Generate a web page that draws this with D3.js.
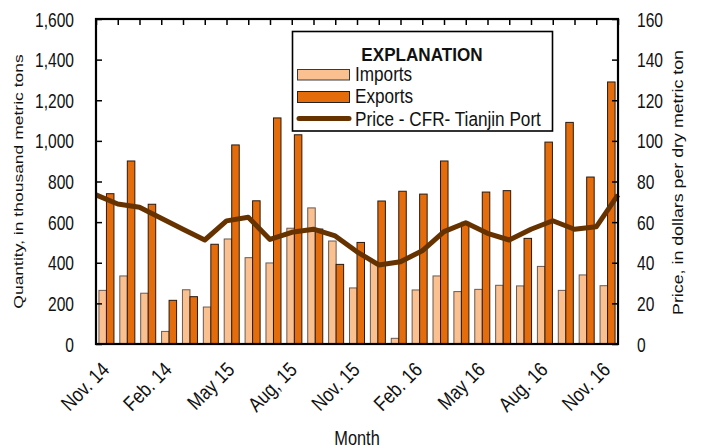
<!DOCTYPE html>
<html>
<head>
<meta charset="utf-8">
<script src="https://cdn.jsdelivr.net/npm/d3@7"></script>
<style>
  html, body { margin: 0; padding: 0; background: #fff; }
  svg { display: block; }
  text { font-family: "Liberation Sans", Arial, sans-serif; fill: #111; }
</style>
</head>
<body>
<svg id="chart" width="704" height="448"></svg>
<script>
const months = ["Nov. 14","Dec. 14","Jan. 15","Feb. 15","Mar. 15","Apr. 15","May 15","Jun. 15","Jul. 15","Aug. 15","Sep. 15","Oct. 15","Nov. 15","Dec. 15","Jan. 16","Feb. 16","Mar. 16","Apr. 16","May 16","Jun. 16","Jul. 16","Aug. 16","Sep. 16","Oct. 16","Nov. 16"];
const imports = [264,335,250,62,267,182,517,425,399,570,670,507,276,405,28,266,335,258,269,289,286,382,264,340,287];
const exportsQ = [740,901,688,215,233,491,980,705,1113,1030,566,392,500,704,752,738,901,599,748,755,520,994,1091,822,1290];
const price = [73.4,68.9,67.3,61.9,56.5,51.2,60.6,62.4,51.5,55,56.5,53.2,45.4,38.9,40.5,45.9,55.3,59.7,54.5,51.2,56.5,60.7,56.5,57.7,73.4];
const tickMonths = ["Nov. 14","Feb. 15","May 15","Aug. 15","Nov. 15","Feb. 16","May 16","Aug. 16","Nov. 16"];
const tickLabels = ["Nov. 14","Feb. 14","May 15","Aug, 15","Nov. 15","Feb. 16","May 16","Aug. 16","Nov. 16"];
const qtyTicks = [0,200,400,600,800,1000,1200,1400,1600];
const priceTicks = [0,20,40,60,80,100,120,140,160];
const seriesNames = ["Imports","Exports"];
const legendTitle = "EXPLANATION";
const legendLabels = ["Imports","Exports","Price - CFR- Tianjin Port"];

const FONT = '"Liberation Sans", Arial, sans-serif';
const C_IMP = "#FAC08F", C_EXP = "#E46C0A", C_LINE = "#663300";
const L = 96, R = 618, T = 19, B = 344;

const svg = d3.select("#chart");
const xBand = d3.scaleBand().domain(months).range([L, R]).paddingInner(0).paddingOuter(0);
const xSub = d3.scaleBand().domain(seriesNames).range([0, xBand.bandwidth()]).paddingInner(0).paddingOuter(0.39);
const xPoint = d3.scalePoint().domain(months).range([L, R]).padding(0);
const yQ = d3.scaleLinear().domain([0, 1600]).range([B, T]);
const yP = d3.scaleLinear().domain([0, 160]).range([B, T]);

// bars
const groups = svg.append("g").selectAll("g").data(months).join("g")
  .attr("transform", d => `translate(${xBand(d)},0)`);
groups.append("rect")
  .attr("x", xSub("Imports")).attr("width", xSub.bandwidth())
  .attr("y", (d,i) => yQ(imports[i])).attr("height", (d,i) => B - yQ(imports[i]))
  .attr("fill", C_IMP).attr("stroke", "#6b5a50").attr("stroke-width", 1);
groups.append("rect")
  .attr("x", xSub("Exports")).attr("width", xSub.bandwidth())
  .attr("y", (d,i) => yQ(exportsQ[i])).attr("height", (d,i) => B - yQ(exportsQ[i]))
  .attr("fill", C_EXP).attr("stroke", "#2a1a10").attr("stroke-width", 1);

// price line
const line = d3.line().x((d,i) => xPoint(months[i])).y(d => yP(d));
svg.append("path").datum(price).attr("d", line)
  .attr("fill", "none").attr("stroke", C_LINE).attr("stroke-width", 5)
  .attr("stroke-linejoin", "round").attr("stroke-linecap", "butt");

// axes
function squeezeText(sel, sx) {
  sel.selectAll("text").each(function() {
    const t = d3.select(this);
    const x = +t.attr("x") || 0;
    t.attr("x", 0).attr("transform", `translate(${x},0) scale(${sx},1)`);
  });
}
const axL = svg.append("g").attr("transform", `translate(${L},0)`)
  .call(d3.axisLeft(yQ).tickValues(qtyTicks).tickSize(-6).tickPadding(22).tickFormat(d3.format(",")));
const axR = svg.append("g").attr("transform", `translate(${R},0)`)
  .call(d3.axisRight(yP).tickValues(priceTicks).tickSize(-6).tickPadding(19).tickFormat(d3.format("d")));
const axT = svg.append("g").attr("transform", `translate(0,${T})`)
  .call(d3.axisTop(xPoint).tickSize(-6).tickFormat(""));
[axL, axR, axT].forEach(a => {
  a.select(".domain").remove();
  a.selectAll("line").attr("stroke", "#000").attr("stroke-width", 1.5);
  a.selectAll("text").attr("font-size", 19.5).attr("font-family", FONT).attr("fill", "#222").attr("dy", "0.36em");
});
squeezeText(axL, 0.8);
squeezeText(axR, 0.8);

// frame
svg.append("rect").attr("x", L).attr("y", T).attr("width", R - L).attr("height", B - T)
  .attr("fill", "none").attr("stroke", "#000").attr("stroke-width", 2.2);

// x labels
svg.append("g").selectAll("text").data(tickMonths).join("text")
  .attr("transform", d => `translate(${xBand(d) + xBand.bandwidth()/2 + 4},371) rotate(-45) scale(0.84,1)`)
  .attr("text-anchor", "end").attr("font-size", 20.5).attr("fill", "#222")
  .text((d,i) => tickLabels[i]);

// axis titles
svg.append("text").attr("transform", `translate(${(L+R)/2},445) scale(0.78,1)`)
  .attr("text-anchor", "middle").attr("font-size", 21).attr("fill", "#222").text("Month");
svg.append("text").attr("transform", `translate(23,${(T+B)/2}) scale(0.78,1) rotate(-90)`)
  .attr("text-anchor", "middle").attr("font-size", 17.5).attr("fill", "#222")
  .text("Quantity, in thousand metric tons");
svg.append("text").attr("transform", `translate(683,${(T+B)/2 + 1}) scale(0.79,1) rotate(-90)`)
  .attr("text-anchor", "middle").attr("font-size", 17.8).attr("fill", "#222")
  .text("Price, in dollars per dry metric ton");

// legend
const lg = svg.append("g");
lg.append("rect").attr("x", 292.5).attr("y", 31.5).attr("width", 260).attr("height", 99.5)
  .attr("fill", "#fff").attr("stroke", "#000").attr("stroke-width", 1.6);
lg.append("text").attr("transform", "translate(422,61) scale(0.93,1)")
  .attr("text-anchor", "middle").attr("font-size", 18.4).attr("font-weight", "bold").attr("fill", "#111")
  .text(legendTitle);
lg.append("rect").attr("x", 297.5).attr("y", 69.5).attr("width", 52).attr("height", 10.5)
  .attr("fill", C_IMP).attr("stroke", "#3a3a3a").attr("stroke-width", 1);
lg.append("rect").attr("x", 297.5).attr("y", 91.5).attr("width", 52).attr("height", 11)
  .attr("fill", C_EXP).attr("stroke", "#222").attr("stroke-width", 1);
lg.append("line").attr("x1", 299).attr("x2", 349).attr("y1", 118.5).attr("y2", 118.5)
  .attr("stroke", C_LINE).attr("stroke-width", 5).attr("stroke-linecap", "round");
const lys = [80.7, 102.7, 126];
lg.selectAll("text.item").data(legendLabels).join("text").attr("class", "item")
  .attr("transform", (d,i) => `translate(355,${lys[i]}) scale(0.88,1)`)
  .attr("font-size", 19.5).attr("fill", "#111").text(d => d);
</script>
</body>
</html>
